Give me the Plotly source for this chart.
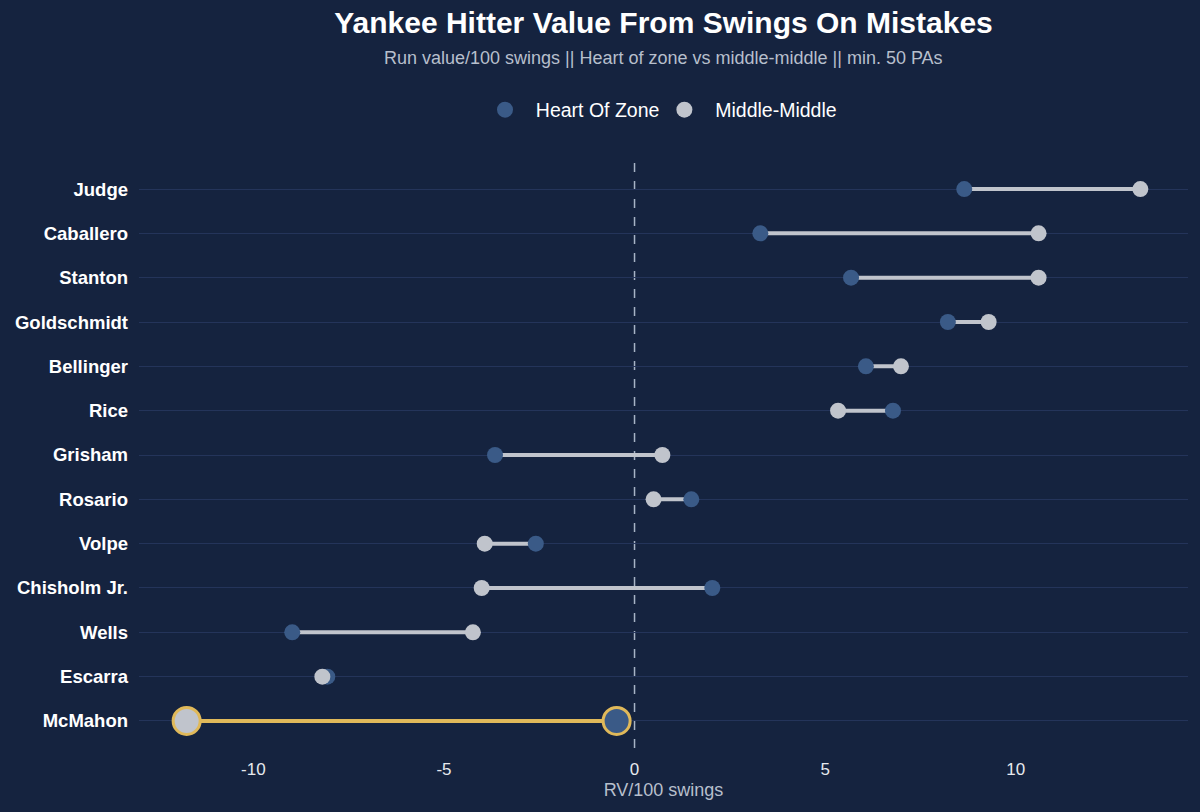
import plotly.graph_objects as go

players = ["Judge", "Caballero", "Stanton", "Goldschmidt", "Bellinger", "Rice",
           "Grisham", "Rosario", "Volpe", "Chisholm Jr.", "Wells", "Escarra", "McMahon"]
heart = [8.65, 3.3, 5.68, 8.22, 6.07, 6.78, -3.66, 1.49, -2.59, 2.04, -8.98, -8.06, -0.47]
middle = [13.27, 10.6, 10.6, 9.29, 6.99, 5.34, 0.73, 0.5, -3.93, -4.01, -4.24, -8.19, -11.75]
highlight = "McMahon"
x_ticks = [-10, -5, 0, 5, 10]
x_ticklabels = ["-10", "-5", "0", "5", "10"]

bg = "#15233f"
heart_col = "#3a5a87"
mid_col = "#c0c4cc"
gold = "#e0b95a"

# segments for everyone but the highlighted player
seg_x, seg_y = [], []
for p, h, m in zip(players, heart, middle):
    if p == highlight:
        continue
    seg_x += [h, m, None]
    seg_y += [p, p, None]

i = players.index(highlight)

fig = go.Figure()
fig.add_trace(go.Scatter(x=seg_x, y=seg_y, mode="lines",
                         line=dict(color=mid_col, width=4), showlegend=False, hoverinfo="skip"))
fig.add_trace(go.Scatter(x=[heart[i], middle[i]], y=[highlight, highlight], mode="lines",
                         line=dict(color=gold, width=4), showlegend=False, hoverinfo="skip"))

others = [j for j, p in enumerate(players) if p != highlight]
fig.add_trace(go.Scatter(x=[heart[j] for j in others], y=[players[j] for j in others],
                         mode="markers", name="  Heart Of Zone",
                         marker=dict(color=heart_col, size=16)))
fig.add_trace(go.Scatter(x=[middle[j] for j in others], y=[players[j] for j in others],
                         mode="markers", name="  Middle-Middle",
                         marker=dict(color=mid_col, size=16)))
fig.add_trace(go.Scatter(x=[heart[i]], y=[highlight], mode="markers", showlegend=False,
                         marker=dict(color=heart_col, size=27, line=dict(color=gold, width=3))))
fig.add_trace(go.Scatter(x=[middle[i]], y=[highlight], mode="markers", showlegend=False,
                         marker=dict(color=mid_col, size=27, line=dict(color=gold, width=3))))

fig.add_shape(type="line", x0=0, x1=0, y0=0, y1=1, yref="paper",
              line=dict(color="#a7b3c6", width=1.5, dash="dash"), layer="below")

plot_h = 812 - 162 - 64
fig.update_layout(
    width=1200, height=812,
    paper_bgcolor=bg, plot_bgcolor=bg,
    font=dict(family="Liberation Sans, Arial", color="#ffffff"),
    margin=dict(l=139, r=12, t=162, b=64),
    title=dict(text="<b>Yankee Hitter Value From Swings On Mistakes</b>",
               x=0.5, xref="paper", xanchor="center", y=1 - 22 / 812, yanchor="middle",
               font=dict(size=30, color="#ffffff")),
    annotations=[dict(text="Run value/100 swings || Heart of zone vs middle-middle || min. 50 PAs",
                      x=0.5, y=1 + (162 - 58) / plot_h, xref="paper", yref="paper",
                      xanchor="center", yanchor="middle", showarrow=False,
                      font=dict(size=18, color="#b7bfcc"))],
    legend=dict(orientation="h", x=0.5, xanchor="center", y=1 + (162 - 110) / plot_h,
                yanchor="middle", font=dict(size=19.5, color="#ffffff"),
                bgcolor="rgba(0,0,0,0)"),
    xaxis=dict(range=[-13.0, 14.52], tickvals=x_ticks, ticktext=x_ticklabels,
               showgrid=False, zeroline=False, ticks="outside", ticklen=6, tickcolor=bg,
               tickfont=dict(size=17, color="#e6e9ee"),
               title=dict(text="RV/100 swings", font=dict(size=18, color="#b7bfcc"), standoff=4)),
    yaxis=dict(categoryorder="array", categoryarray=players[::-1], range=[-0.61, 12.61],
               tickvals=players[::-1], ticktext=["<b>%s</b>" % p for p in players[::-1]],
               showgrid=True, gridcolor="#24345a", gridwidth=1, zeroline=False,
               ticklabelstandoff=10,
               tickfont=dict(size=18.5, color="#ffffff")),
)

fig.write_html("out.html", config={"displayModeBar": False},
               post_script="document.body.style.margin='0';")
